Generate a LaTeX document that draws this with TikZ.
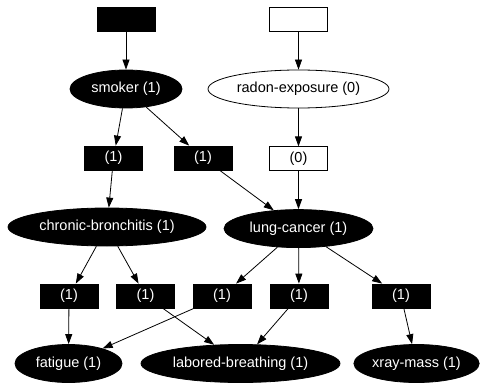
\documentclass[tikz,border=0pt]{standalone}
\usepackage{fontspec}
\setmainfont{Liberation Sans}
\usetikzlibrary{arrows.meta,positioning,shapes.geometric}

\begin{document}
\begin{tikzpicture}[
        x=1pt, y=-1pt,
        font=\fontsize{14.5}{17}\selectfont,
        evid/.style={draw, rectangle, minimum width=58pt, minimum height=24pt, inner sep=0pt, line width=0.8pt},
        var/.style={draw, ellipse, minimum height=38pt, inner sep=0pt, line width=0.8pt},
        active/.style={fill=black, text=white},
        inactive/.style={fill=white, text=black},
        arrow/.style={-{Triangle[length=10pt, width=7pt]}, line width=0.8pt}
    ]
        \useasboundingbox (0,0) rectangle (494,382);

        \node[evid, active] (smokerev) at (126,19) {};
        \node[evid, inactive] (radonev) at (298.5,19) {};
        \node[var, active, minimum width=112pt] (smoker) at (126,89) {smoker (1)};
        \node[var, inactive, minimum width=181pt] (radon) at (298.5,89) {radon-exposure (0)};

        \node[evid, active] (smkcb) at (113.5,158) {(1)};
        \node[evid, active] (smklc) at (203,158) {(1)};
        \node[evid, inactive, below=38pt of radon] (radlc) {(0)};
        \node[var, active, minimum width=198pt] (bronchitis) at (107,227) {chronic-bronchitis (1)};
        \node[var, active, minimum width=149pt, below=38pt of radlc] (cancer) {lung-cancer (1)};

        \node[evid, active] (cbfat) at (69,296) {(1)};
        \node[evid, active] (cblab) at (145.5,296) {(1)};
        \node[evid, active] (lcfat) at (222,296) {(1)};
        \node[evid, active] (lclab) at (299,296) {(1)};
        \node[evid, active] (lcxray) at (401,296) {(1)};
        \node[var, active, minimum width=107pt] (fatigue) at (68.5,363.5) {fatigue (1)};
        \node[var, active, minimum width=199pt] (labored) at (240.5,363.5) {labored-breathing (1)};
        \node[var, active, minimum width=119pt] (xray) at (416.5,363.5) {xray-mass (1)};

        \draw[arrow] (smokerev) -- (smoker);
        \draw[arrow] (radonev) -- (radon);
        \draw[arrow] (smoker) -- (smkcb);
        \draw[arrow] (smoker) -- (smklc);
        \draw[arrow] (radon) -- (radlc);
        \draw[arrow] (smkcb) -- (bronchitis);
        \draw[arrow] (smklc) -- (cancer);
        \draw[arrow] (radlc) -- (cancer);
        \draw[arrow] (bronchitis) -- (cbfat);
        \draw[arrow] (bronchitis) -- (cblab);
        \draw[arrow] (cancer) -- (lcfat);
        \draw[arrow] (cancer) -- (lclab);
        \draw[arrow] (cancer) -- (lcxray);
        \draw[arrow] (cbfat) -- (fatigue);
        \draw[arrow] (cblab) -- (labored);
        \draw[arrow] (lcfat) -- (fatigue);
        \draw[arrow] (lclab) -- (labored);
        \draw[arrow] (lcxray) -- (xray);
    \end{tikzpicture}
\end{document}
